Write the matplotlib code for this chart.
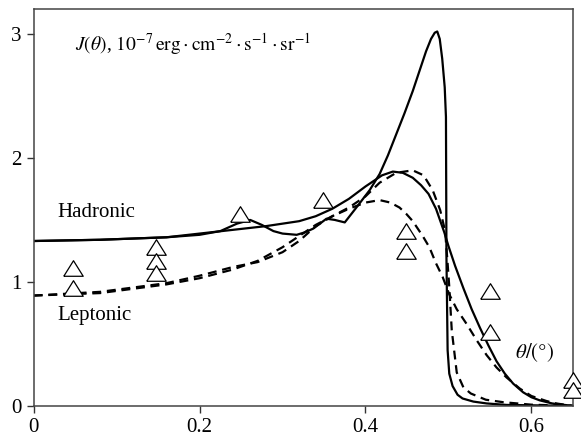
import matplotlib
matplotlib.use("Agg")
import matplotlib.pyplot as plt

plt.rcParams["font.family"] = ["Liberation Serif", "DejaVu Serif"]
plt.rcParams["mathtext.fontset"] = "stix"

# hadronic model, smooth profile
had_smooth_x = [0, 0.08, 0.16, 0.24, 0.28, 0.32, 0.34, 0.36, 0.38, 0.40, 0.42, 0.433,
                0.445, 0.457, 0.467, 0.476, 0.485, 0.495, 0.50, 0.508, 0.518, 0.528,
                0.538, 0.548, 0.558, 0.568, 0.578, 0.59, 0.60, 0.61, 0.625, 0.64, 0.65]
had_smooth_y = [1.33, 1.34, 1.36, 1.42, 1.45, 1.49, 1.53, 1.59, 1.67, 1.77, 1.86, 1.89,
                1.88, 1.84, 1.78, 1.71, 1.59, 1.40, 1.29, 1.13, 0.95, 0.78,
                0.63, 0.49, 0.36, 0.26, 0.18, 0.11, 0.07, 0.045, 0.02, 0.008, 0.0]

# hadronic model, sharp-edged profile
had_peak_x = [0, 0.08, 0.16, 0.20, 0.225, 0.245, 0.261, 0.275, 0.289, 0.30, 0.317, 0.327,
              0.337, 0.353, 0.363, 0.375, 0.389, 0.405, 0.417, 0.427, 0.437, 0.447, 0.457,
              0.465, 0.473, 0.479, 0.4835, 0.4865, 0.4895, 0.4925, 0.4955, 0.497, 0.4976,
              0.499, 0.501, 0.505, 0.511, 0.517, 0.53, 0.546, 0.57, 0.65]
had_peak_y = [1.33, 1.34, 1.36, 1.38, 1.41, 1.47, 1.50, 1.46, 1.41, 1.39, 1.38, 1.40,
              1.43, 1.51, 1.50, 1.48, 1.60, 1.74, 1.87, 2.02, 2.19, 2.36, 2.54,
              2.70, 2.86, 2.96, 3.01, 3.02, 2.96, 2.80, 2.57, 2.33, 1.2,
              0.45, 0.26, 0.16, 0.09, 0.06, 0.035, 0.02, 0.008, 0.0]

# leptonic model, sharp-edged profile
lep_peak_x = [0, 0.08, 0.16, 0.20, 0.24, 0.27, 0.30, 0.32, 0.34, 0.36, 0.38, 0.40, 0.417,
              0.437, 0.457, 0.47, 0.481, 0.490, 0.496, 0.499, 0.501, 0.504, 0.51, 0.518,
              0.527, 0.545, 0.566, 0.60, 0.65]
lep_peak_y = [0.89, 0.91, 0.98, 1.03, 1.10, 1.17, 1.28, 1.37, 1.46, 1.53, 1.60, 1.69, 1.80,
              1.88, 1.90, 1.86, 1.74, 1.58, 1.41, 1.15, 0.96, 0.61, 0.27, 0.15,
              0.10, 0.05, 0.03, 0.01, 0.0]

# leptonic model, smooth profile
lep_smooth_x = [0, 0.08, 0.16, 0.20, 0.24, 0.27, 0.30, 0.32, 0.34, 0.36, 0.38, 0.40, 0.417,
                0.43, 0.441, 0.449, 0.457, 0.469, 0.477, 0.485, 0.493, 0.501, 0.51, 0.522,
                0.534, 0.546, 0.558, 0.57, 0.586, 0.60, 0.618, 0.63, 0.65]
lep_smooth_y = [0.89, 0.92, 0.99, 1.05, 1.12, 1.16, 1.24, 1.33, 1.45, 1.53, 1.59, 1.64, 1.66,
                1.64, 1.60, 1.55, 1.49, 1.37, 1.28, 1.15, 1.04, 0.90, 0.78, 0.66,
                0.53, 0.41, 0.31, 0.23, 0.14, 0.08, 0.04, 0.02, 0.0]

# observed points
obs_x = [0.047, 0.047, 0.148, 0.148, 0.148, 0.249, 0.349, 0.449, 0.449, 0.55, 0.55, 0.65, 0.65]
obs_y = [1.11, 0.955, 1.28, 1.17, 1.07, 1.55, 1.66, 1.41, 1.25, 0.93, 0.60, 0.21, 0.13]

fig = plt.figure(figsize=(5.81, 4.36), dpi=100)
ax = fig.add_axes([0.058, 0.069, 0.928, 0.910])

lw = 1.6
ax.plot(had_smooth_x, had_smooth_y, color="black", lw=lw)
ax.plot(had_peak_x, had_peak_y, color="black", lw=lw)
ax.plot(lep_peak_x, lep_peak_y, color="black", lw=lw, ls=(0, (4, 2.6)))
ax.plot(lep_smooth_x, lep_smooth_y, color="black", lw=lw, ls=(0, (4, 2.6)))

tri = [(-1, -0.8), (1, -0.8), (0, 0.8), (-1, -0.8)]
ax.plot(obs_x, obs_y, ls="none", marker=tri, ms=14, mfc="white", mec="black",
        mew=0.9, clip_on=False, zorder=5)

ax.text(0.05, 2.92,
        r"$J(\theta)$, $10^{-7}\,\mathrm{erg\cdot cm^{-2}\cdot s^{-1}\cdot sr^{-1}}$",
        fontsize=14, va="center", ha="left")
ax.text(0.029, 1.56, "Hadronic", fontsize=15, va="center", ha="left")
ax.text(0.029, 0.73, "Leptonic", fontsize=15, va="center", ha="left")
ax.text(0.58, 0.43, r"$\theta/(°)$", fontsize=15, va="center", ha="left")

ax.set_xlim(0, 0.65)
ax.set_ylim(0, 3.2)
ax.set_xticks([0, 0.2, 0.4, 0.6])
ax.set_xticklabels(["0", "0.2", "0.4", "0.6"])
ax.set_yticks([0, 1, 2, 3])
ax.set_yticklabels(["0", "1", "2", "3"])
ax.tick_params(direction="out", length=5, width=1, labelsize=15, colors="#333333",
               labelcolor="black")
for s in ax.spines.values():
    s.set_color("#444444")
    s.set_linewidth(1.1)

fig.savefig("out.png", dpi=100)
